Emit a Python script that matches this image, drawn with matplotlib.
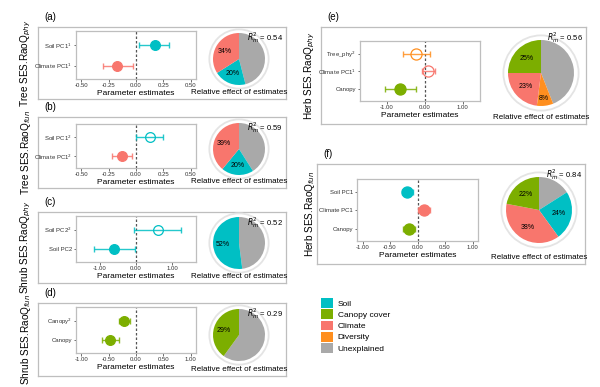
import numpy as np
import matplotlib.pyplot as plt
from matplotlib.patches import Circle, Patch

plt.rcParams['font.family'] = ['Liberation Sans', 'DejaVu Sans']

W, H = 600, 387

SOIL = '#00BFC4'
CANOPY = '#7CAE00'
CLIMATE = '#F8766D'
DIVERSITY = '#FF8F1F'
UNEXPL = '#A9A9A9'

# ---- data, bottom term first ----
a_terms = ['Climate PC1$^1$', 'Soil PC1$^1$']
a_est = [-0.17, 0.17]
a_lo = [-0.30, 0.03]
a_hi = [-0.03, 0.30]
a_col = [CLIMATE, SOIL]
a_open = [False, False]
a_pie = [46, 20, 34]
a_pie_col = [UNEXPL, SOIL, CLIMATE]
a_pie_lab = ['', '20%', '34%']
a_r2 = 0.54

b_terms = ['Climate PC1$^2$', 'Soil PC1$^2$']
b_est = [-0.13, 0.13]
b_lo = [-0.22, 0.0]
b_hi = [-0.04, 0.25]
b_col = [CLIMATE, SOIL]
b_open = [False, True]
b_pie = [41, 20, 39]
b_pie_col = [UNEXPL, SOIL, CLIMATE]
b_pie_lab = ['', '20%', '39%']
b_r2 = 0.59

c_terms = ['Soil PC2', 'Soil PC2$^2$']
c_est = [-0.60, 0.60]
c_lo = [-1.16, -0.06]
c_hi = [-0.02, 1.25]
c_col = [SOIL, SOIL]
c_open = [False, True]
c_pie = [48, 52]
c_pie_col = [UNEXPL, SOIL]
c_pie_lab = ['', '52%']
c_r2 = 0.52

d_terms = ['Canopy', 'Canopy$^2$']
d_est = [-0.48, -0.22]
d_lo = [-0.63, -0.31]
d_hi = [-0.32, -0.11]
d_col = [CANOPY, CANOPY]
d_open = [False, False]
d_pie = [60, 40]
d_pie_col = [UNEXPL, CANOPY]
d_pie_lab = ['', '29%']
d_r2 = 0.29

e_terms = ['Canopy', 'Climate PC1$^1$', 'Tree_phy$^2$']
e_est = [-0.65, 0.08, -0.23]
e_lo = [-1.04, -0.08, -0.56]
e_hi = [-0.24, 0.27, 0.14]
e_col = [CANOPY, CLIMATE, DIVERSITY]
e_open = [False, True, True]
e_pie = [44, 8, 23, 25]
e_pie_col = [UNEXPL, DIVERSITY, CLIMATE, CANOPY]
e_pie_lab = ['', '8%', '23%', '25%']
e_r2 = 0.56

f_terms = ['Canopy', 'Climate PC1', 'Soil PC1']
f_est = [-0.16, 0.11, -0.19]
f_lo = [-0.26, 0.01, -0.29]
f_hi = [-0.05, 0.22, -0.08]
f_col = [CANOPY, CLIMATE, SOIL]
f_open = [False, False, False]
f_pie = [16, 24, 38, 22]
f_pie_col = [UNEXPL, SOIL, CLIMATE, CANOPY]
f_pie_lab = ['', '24%', '38%', '22%']
f_r2 = 0.84

legend_names = ['Soil', 'Canopy cover', 'Climate', 'Diversity', 'Unexplained']
legend_cols = [SOIL, CANOPY, CLIMATE, DIVERSITY, UNEXPL]


def rect(x0, y0, x1, y1):
    # pixel box (top-left origin) -> figure fraction
    return [x0 / W, 1 - y1 / H, (x1 - x0) / W, (y1 - y0) / H]


def panel(fig, tag, ylab, box, inner, pc, pr, xlim, xticks,
          terms, est, lo, hi, cols, opens, pie, pie_cols, pie_lab, r2, ms=7):
    # outer frame
    bx = fig.add_axes(rect(*box))
    bx.set_xticks([])
    bx.set_yticks([])
    for s in bx.spines.values():
        s.set_color('#BEBEBE')
        s.set_linewidth(0.9)
    fig.text((box[0] + 6) / W, 1 - (box[1] - 10) / H, tag,
             fontsize=7, ha='left', va='center')
    lx = 26 if box[0] < 100 else 310
    fig.text(lx / W, 1 - (box[1] + box[3]) / 2 / H, ylab, rotation=90,
             fontsize=7.2, ha='center', va='center')

    # forest plot
    ax = fig.add_axes(rect(*inner))
    y = np.arange(1, len(terms) + 1)
    ax.axvline(0, color='#555555', lw=0.9, ls=(0, (2, 1.6)), zorder=1)
    for i in range(len(terms)):
        ax.errorbar(est[i], y[i], xerr=[[est[i] - lo[i]], [hi[i] - est[i]]],
                    fmt='none', ecolor=cols[i], elinewidth=1.0, capsize=2.5,
                    capthick=1.0, alpha=0.85, zorder=2)
        ax.plot(est[i], y[i], 'o', ms=ms, mec=cols[i], mew=0.9,
                mfc='none' if opens[i] else cols[i], zorder=3)
    ax.set_xlim(*xlim)
    ax.set_ylim(0.35, len(terms) + 0.7)
    ax.set_xticks(xticks)
    ax.set_xticklabels(['%.2f' % t for t in xticks])
    ax.set_yticks(y)
    ax.set_yticklabels(terms)
    ax.tick_params(labelsize=4.3, length=1.8, width=0.5, pad=1.2, colors='#333333')
    for s in ax.spines.values():
        s.set_color('#BEBEBE')
        s.set_linewidth(0.9)
    ax.set_xlabel('Parameter estimates', fontsize=6, labelpad=1.5)

    # pie
    side = pr * 2.5
    px = fig.add_axes(rect(pc[0] - side / 2, pc[1] - side / 2,
                           pc[0] + side / 2, pc[1] + side / 2))
    px.axis('off')
    px.pie(pie, colors=pie_cols, startangle=90, counterclock=False,
           radius=1, wedgeprops=dict(linewidth=0), frame=False)
    px.add_patch(Circle((0, 0), 1.14, fill=False, ec='#E4E4E4', lw=1.3, clip_on=False))
    px.set_xlim(-1.25, 1.25)
    px.set_ylim(-1.25, 1.25)
    px.set_aspect('equal', adjustable='box')
    frac = np.array(pie, dtype=float) / sum(pie)
    start = np.concatenate([[0], np.cumsum(frac)[:-1]])
    for f0, f, lab in zip(start, frac, pie_lab):
        if not lab:
            continue
        th = np.deg2rad(360 * (f0 + f / 2))
        rr = 0.78 if f < 0.12 else 0.62
        px.text(rr * np.sin(th), rr * np.cos(th), lab, fontsize=5,
                ha='center', va='center')
    fig.text((box[2] - 3) / W, 1 - (box[1] + 3) / H, '$R^2_m$ = %.2f' % r2,
             fontsize=5.5, ha='right', va='top')
    fig.text(pc[0] / W, 1 - (box[3] - 3) / H, 'Relative effect of estimates',
             fontsize=5.8, ha='center', va='bottom')


fig = plt.figure(figsize=(6, 3.87), dpi=100)

t05 = [-0.5, -0.25, 0, 0.25, 0.5]
t1 = [-1, -0.5, 0, 0.5, 1]

panel(fig, '(a)', 'Tree SES.RaoQ$_{phy}$', (38, 27, 286, 99), (76, 31, 196, 79),
      (239, 59), 26, (-0.55, 0.55), t05,
      a_terms, a_est, a_lo, a_hi, a_col, a_open, a_pie, a_pie_col, a_pie_lab, a_r2)
panel(fig, '(b)', 'Tree SES.RaoQ$_{fun}$', (38, 117, 286, 188), (76, 124, 196, 168),
      (239, 149), 26, (-0.55, 0.55), t05,
      b_terms, b_est, b_lo, b_hi, b_col, b_open, b_pie, b_pie_col, b_pie_lab, b_r2)
panel(fig, '(c)', 'Shrub SES.RaoQ$_{phy}$', (38, 212, 286, 283), (76, 216, 196, 262),
      (239, 243), 26, (-1.65, 1.65), [-1, 0, 1],
      c_terms, c_est, c_lo, c_hi, c_col, c_open, c_pie, c_pie_col, c_pie_lab, c_r2)
panel(fig, '(d)', 'Shrub SES.RaoQ$_{fun}$', (38, 303, 286, 376), (76, 307, 196, 353),
      (239, 335), 26, (-1.1, 1.1), t1,
      d_terms, d_est, d_lo, d_hi, d_col, d_open, d_pie, d_pie_col, d_pie_lab, d_r2)
panel(fig, '(e)', 'Herb SES.RaoQ$_{phy}$', (321, 27, 586, 124), (360, 41, 480, 101),
      (541, 73), 33, (-1.7, 1.45), [-1, 0, 1],
      e_terms, e_est, e_lo, e_hi, e_col, e_open, e_pie, e_pie_col, e_pie_lab, e_r2, ms=8)
panel(fig, '(f)', 'Herb SES.RaoQ$_{fun}$', (317, 164, 585, 264), (357, 179, 478, 241),
      (539, 210), 33, (-1.1, 1.1), t1,
      f_terms, f_est, f_lo, f_hi, f_col, f_open, f_pie, f_pie_col, f_pie_lab, f_r2, ms=8)

handles = [Patch(facecolor=c, edgecolor='none') for c in legend_cols]
fig.legend(handles, legend_names, loc='upper left', bbox_to_anchor=(321 / W, 1 - 298 / H),
           frameon=False, fontsize=6, handlelength=1.4, handleheight=1.4,
           handletextpad=0.6, labelspacing=0.2, borderaxespad=0, borderpad=0)

fig.savefig('out.png', dpi=100)
